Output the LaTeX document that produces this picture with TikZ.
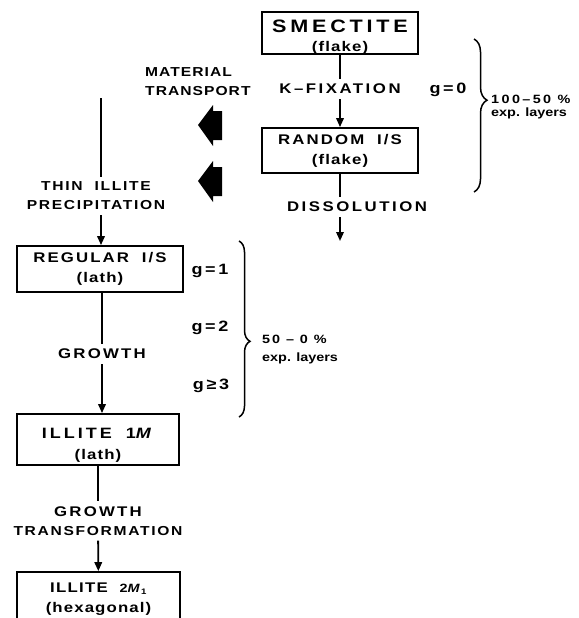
\documentclass[tikz,border=0pt]{standalone}
\usepackage{fontspec}
\setmainfont{Liberation Sans}
\newfontfamily\capsfont[FakeStretch=1.2, ItalicFont={Liberation Sans Bold Italic}]{Liberation Sans Bold}
\newfontfamily\lowfont[FakeStretch=1.2, LetterSpace=8]{Liberation Sans Bold}
\newcommand\subline[1]{{\lowfont\fontsize{14}{16}\selectfont #1}}
\newcommand\spaced[1]{\addfontfeature{LetterSpace=#1}}
\usetikzlibrary{arrows.meta,decorations.pathreplacing}
\begin{document}
\begin{tikzpicture}[
        x=1pt, y=-1pt,
        box/.style={rectangle, draw, line width=1.8pt, align=center, inner sep=0pt,
            font=\capsfont\fontsize{14}{20}\selectfont\spaced{15}},
        lbl/.style={align=center, inner sep=5pt, font=\capsfont\fontsize{14}{19}\selectfont\spaced{18}},
        smalllbl/.style={align=center, inner sep=5pt, font=\capsfont\fontsize{13}{19}\selectfont\spaced{13}},
        gval/.style={inner sep=1pt, font=\capsfont\fontsize{15}{17}\selectfont\spaced{18}},
        pct/.style={anchor=west, align=left, inner sep=0pt, font=\lowfont\fontsize{12}{13}\selectfont\spaced{0}},
        link/.style={line width=1.8pt},
        tip/.style={-{Triangle[length=9pt,width=7.5pt]}},
        blockarrow/.style={fill=black},
        layerbrace/.style={decorate, line width=1.5pt}
    ]
        \useasboundingbox (0,0) rectangle (578,618);
        \clip (0,0) rectangle (578,618);

        % Right column (flake)
        \node[box, minimum width=156, minimum height=42] (smectite) at (340,33)
            {{\fontsize{18}{20}\selectfont\spaced{21}\rule{0pt}{20pt}SMECTITE}\\[-1pt]\subline{(flake)}};
        \node[lbl] (kfix) at (340,89) {K–FIXATION};
        \node[box, minimum width=156, minimum height=45] (random) at (340,150.5)
            {RANDOM\hspace{6pt} I/S\\\subline{(flake)}};
        \node[lbl] (dissol) at (357,207) {DISSOLUTION};
        \coordinate (dend) at (340,241);

        \draw[link] (smectite) -- (kfix);
        \draw[link, tip] (kfix) -- (random);
        \draw[link] (random) -- (random |- dissol.north);
        \draw[link, tip] (random |- dissol.south) -- (dend);

        % Material transport
        \node[smalllbl, anchor=west, align=left, inner sep=0pt,
            font=\capsfont\fontsize{13}{19}\selectfont\spaced{8}] (transport) at (145,81.5) {MATERIAL\\TRANSPORT};
        \fill[blockarrow] (198,125) -- (213,105) -- (213,111) -- (222,111) -- (222,140) -- (213,140) -- (213,146) -- cycle;
        \fill[blockarrow] (198,181) -- (213,161) -- (213,167) -- (222,167) -- (222,196) -- (213,196) -- (213,202) -- cycle;

        % Left column (lath)
        \coordinate (mtop) at (101,98);
        \node[smalllbl] (thin) at (96,196) {THIN\hspace{6pt} ILLITE\\PRECIPITATION};
        \node[box, minimum width=166, minimum height=46] (regular) at (100,269)
            {REGULAR\hspace{6pt} I/S\\\subline{(lath)}};
        \node[lbl, font=\capsfont\fontsize{14}{19}\selectfont\spaced{16}] (growth) at (102,354) {GROWTH};
        \node[box, minimum width=162, minimum height=51] (illiteone) at (98,439.5)
            {{\fontsize{15}{20}\selectfont\spaced{20}\rule{0pt}{21pt}ILLITE\hspace{14pt}1\textit{M}}\\[1pt]\subline{(lath)}};
        \node[smalllbl] (transform) at (98,521) {{\fontsize{14}{19}\selectfont\spaced{16}GROWTH}\\TRANSFORMATION};
        \node[box, minimum width=163, minimum height=54] (illitetwo) at (98.5,599)
            {{\spaced{9}ILLITE\hspace{12pt}{\fontsize{12}{13}\selectfont 2\textit{M}\textsubscript{1}}}\\\subline{(hexagonal)}};

        \draw[link] (mtop) -- (mtop |- thin.north);
        \draw[link, tip] (thin.south -| mtop) -- (regular.north -| mtop);
        \draw[link] (regular.south -| growth) -- (growth);
        \draw[link, tip] (growth) -- (growth |- illiteone.north);
        \draw[link] (illiteone) -- (transform);
        \draw[link, tip] (transform) -- (illitetwo);

        % Expandable layers
        \node[gval] (gzero) at (448,90) {g=0};
        \node[gval] (gone) at (210,271) {g=1};
        \node[gval] (gtwo) at (210,328) {g=2};
        \node[gval] (gthree) at (211,386) {g≥3};
        \draw[layerbrace, decoration={brace, amplitude=13pt, aspect=0.40}] (474,39) -- (474,192);
        \draw[layerbrace, decoration={brace, amplitude=11pt, aspect=0.57}] (239,241) -- (239,417);
        \node[pct] (pctone) at (491,107) {{\spaced{20}100–50 \%}\\exp. layers};
        \node[pct] (pcttwo) at (262,350) {{\spaced{16}50 – 0 \%}\\[5pt]exp. layers};
\end{tikzpicture}
\end{document}
